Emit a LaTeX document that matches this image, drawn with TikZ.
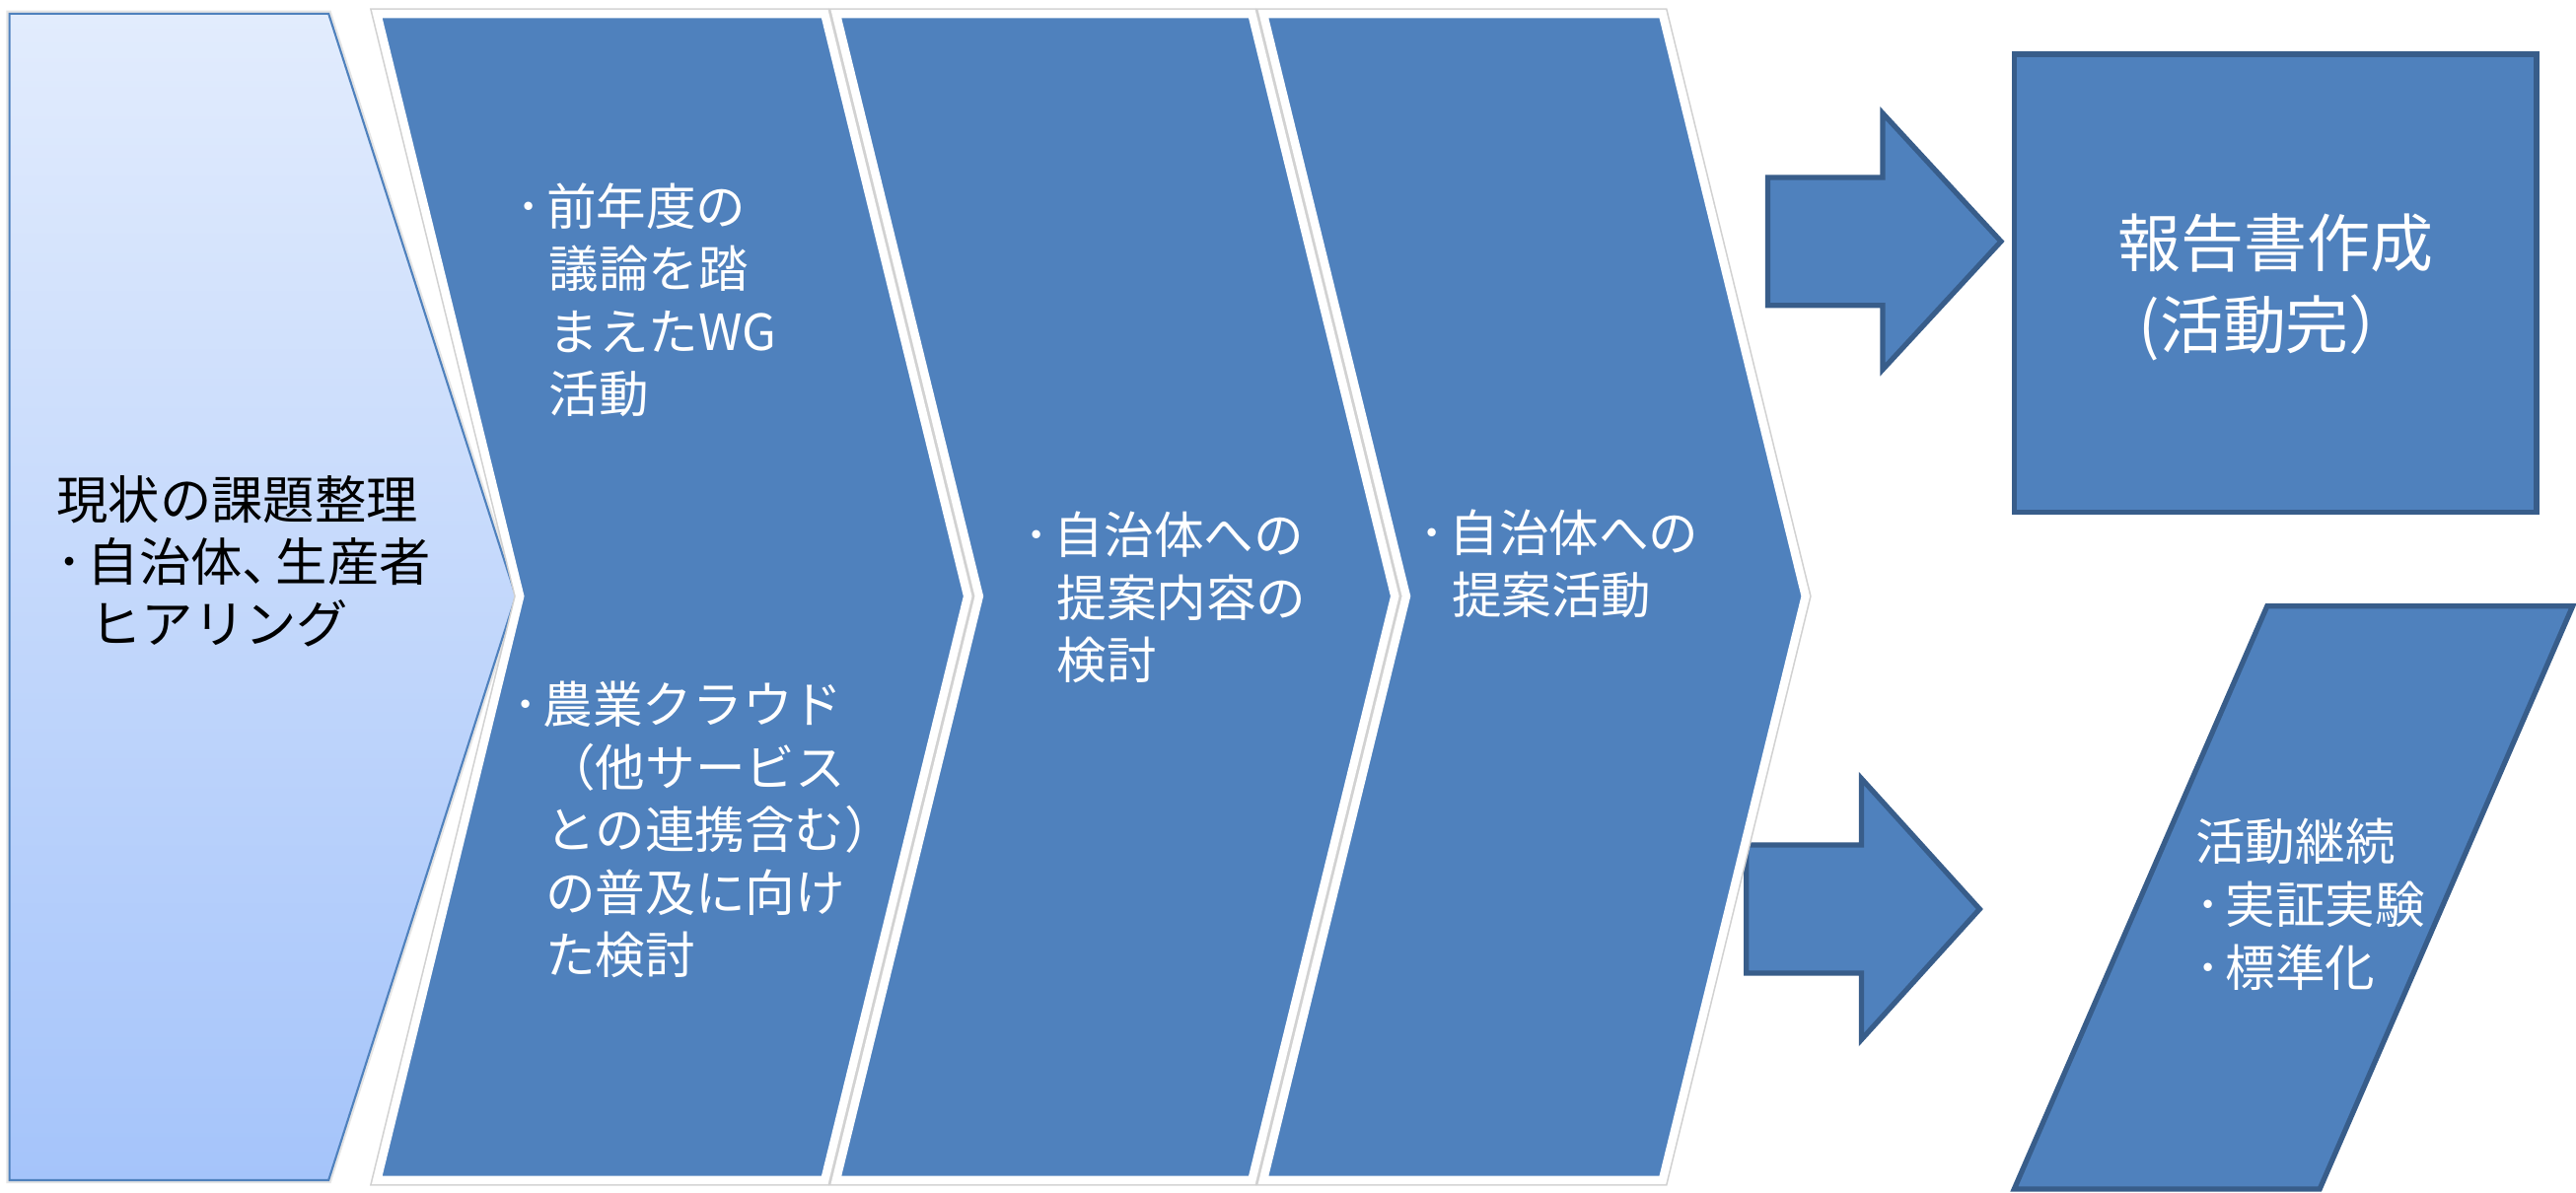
\documentclass[tikz,border=0pt]{standalone}
\usepackage{fontspec}
\setmainfont{Noto Sans CJK JP}
\definecolor{darkblue}{RGB}{79,129,189}
\definecolor{edgeblue}{RGB}{56,93,138}
\definecolor{lighttop}{RGB}{226,236,253}
\definecolor{lightbot}{RGB}{165,196,250}
\newcommand\leftlines[2]{\vtop{\baselineskip=#1\relax\lineskip=0pt\lineskiplimit=-100pt\halign{##\hfil\cr#2\crcr}}}
\newcommand\centerlines[2]{\vtop{\baselineskip=#1\relax\lineskip=0pt\lineskiplimit=-100pt\halign{\hfil##\hfil\cr#2\crcr}}}
\newcommand\bul{･\hspace{0.1em}}
\newcommand\ind{\hspace*{0.65em}}
\begin{document}
\begin{tikzpicture}[x=0.016658cm,y=-0.016658cm,
  chev/.style={fill=darkblue, draw=white, line width=2.4pt, preaction={draw=black!18, line width=3.3pt}},
  lightchev/.style={top color=lighttop, bottom color=lightbot, draw=darkblue, line width=0.6pt, preaction={draw=black!10, line width=1.8pt}},
  blockshape/.style={fill=darkblue, draw=edgeblue, line width=1.5pt},
  wtext/.style={text=white, inner sep=0pt, anchor=base west, font=\fontsize{14.4pt}{18pt}\selectfont},
  btext/.style={text=black, inner sep=0pt, anchor=base west, font=\fontsize{14.9pt}{18pt}\selectfont},
  ttext/.style={text=white, inner sep=0pt, anchor=base, font=\fontsize{18.2pt}{23pt}\selectfont}]
\useasboundingbox (0,0) rectangle (1568,726);
\fill[white] (0,0) rectangle (1568,726);

% step 1 (light chevron)
\path[lightchev] (5.8,8.3) -- (200,8.3) -- (314,363) -- (200,718.6) -- (5.8,718.6) -- cycle;

% block arrows (behind the chevrons)
\path[blockshape] (1076,108) -- (1146,108) -- (1146,69) -- (1218,147) -- (1146,225) -- (1146,186) -- (1076,186) -- cycle;
\path[blockshape] (1063,514.5) -- (1133,514.5) -- (1133,474) -- (1205,553.5) -- (1133,633) -- (1133,592.5) -- (1063,592.5) -- cycle;

% chevrons 2-4
\path[chev] (229.5,8.5) -- (502,8.5) -- (589,363) -- (502,718.5) -- (229.5,718.5) -- (316.5,363) -- cycle;
\path[chev] (509,8.5) -- (762,8.5) -- (849,363) -- (762,718.5) -- (509,718.5) -- (596,363) -- cycle;
\path[chev] (769,8.5) -- (1012,8.5) -- (1099,363) -- (1012,718.5) -- (769,718.5) -- (856,363) -- cycle;

% result shapes
\path[blockshape] (1226,33) rectangle (1544,312);
\path[blockshape] (1380,369) -- (1566,369) -- (1412,724) -- (1226,724) -- cycle;

% texts
\node[btext] (t1) at (34,316) {\leftlines{17.95pt}{現状の課題整理\cr\bul 自治体、\kern-0.35em生産者\cr\ind ヒアリング}};
\node[wtext] (t2a) at (314,137.1) {\leftlines{18.05pt}{\bul 前年度の\cr\ind 議論を踏\cr\ind まえたWG\cr\ind 活動}};
\node[wtext] (t2b) at (312,440.6) {\leftlines{18.05pt}{\bul 農業クラウド\cr\ind （他サービス\cr\ind との連携含む）\cr\ind の普及に向け\cr\ind た検討}};
\node[wtext] (t3) at (623,337.2) {\leftlines{18.05pt}{\bul 自治体への\cr\ind 提案内容の\cr\ind 検討}};
\node[wtext] (t4) at (863.5,335.6) {\leftlines{18.05pt}{\bul 自治体への\cr\ind 提案活動}};
\node[ttext] (t5) at (1385,162.6) {\centerlines{23.4pt}{報告書作成\cr(活動完）}};
\node[wtext] (t6) at (1336,523.6) {\leftlines{18.2pt}{活動継続\cr\bul 実証実験\cr\bul 標準化}};
\end{tikzpicture}
\end{document}
